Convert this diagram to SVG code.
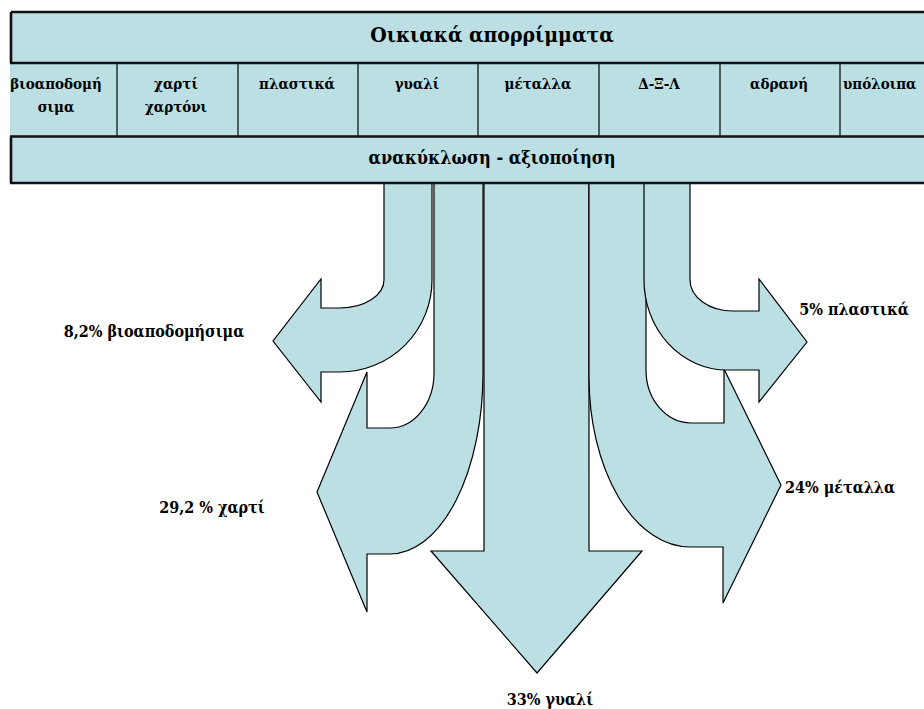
<svg xmlns="http://www.w3.org/2000/svg" width="924" height="709" viewBox="0 0 924 709">
<style>
.fl{fill:#BBDFE3}
.ar{fill:#BBDFE3;stroke:#000;stroke-width:1.2;stroke-linejoin:miter}
.bd{stroke:#111;stroke-width:2.6;fill:none}
.sep{stroke:#222;stroke-width:1.4}
text{font-family:"DejaVu Serif Condensed","DejaVu Serif",serif;font-stretch:condensed;font-weight:bold;fill:#000}
.t1{font-size:21px;text-anchor:middle}
.t2{font-size:15px;text-anchor:middle}
.t3{font-size:18px;text-anchor:middle}
.lb{font-size:16px;text-anchor:middle}
</style>
<rect width="924" height="709" fill="#fff"/>
<g id="connectors">
<path id="arrow-bio" class="ar" d="M384,183 L384,280 A44,28 0 0 1 340,308 L321,308 L321,279 L273,341 L321,402 L321,372 L340,372 A92,92 0 0 0 432,280 L432,183 Z"/>
<path id="arrow-paper" class="ar" d="M434,183 L434,373 A44,55 0 0 1 390,428 L367,428 L367,372 L317,492 L367,612 L367,554 L390,554 A93,181 0 0 0 483,373 L483,183 Z"/>
<path id="arrow-glass" class="ar" d="M484,183 L484,551 L431,551 L537,673 L642,551 L589,551 L589,183 Z"/>
<path id="arrow-metal" class="ar" d="M646,183 L646,370 A45,53 0 0 0 691,423 L724,423 L724,369 L781,485 L723,603 L723,547 L690,547 A101,170 0 0 1 589,377 L589,183 Z"/>
<path id="arrow-plastic" class="ar" d="M690,183 L690,280 A43,31 0 0 0 733,311 L759,311 L759,279 L807,342 L759,402 L759,370 L727,370 A83,90 0 0 1 644,280 L644,183 Z"/>
</g>
<g id="header">
<rect class="fl" x="10" y="12" width="930" height="172"/>
<path class="bd" d="M11,12 H930 M11,12 V63 M10,63 H930 M10,136.5 H930 M11,136.5 V183 M10,183 H930"/>
<path class="sep" d="M117,63 V136 M238,63 V136 M358,63 V136 M478,63 V136 M599,63 V136 M720,63 V136 M840,63 V136"/>
</g>
<g id="title"><text class="t1" x="492" y="42">Οικιακά απορρίμματα</text></g>
<g id="recycling"><text class="t3" x="492" y="164">ανακύκλωση - αξιοποίηση</text></g>
<g id="cat-bio"><text class="t2" x="56" y="89">βιοαποδομή</text><text class="t2" x="56" y="112">σιμα</text></g>
<g id="cat-paper"><text class="t2" x="176" y="89">χαρτί</text><text class="t2" x="176" y="112">χαρτόνι</text></g>
<g id="cat-plastic"><text class="t2" x="297" y="89">πλαστικά</text></g>
<g id="cat-glass"><text class="t2" x="417" y="89">γυαλί</text></g>
<g id="cat-metal"><text class="t2" x="538" y="89">μέταλλα</text></g>
<g id="cat-dxl"><text class="t2" x="659" y="89">Δ-Ξ-Λ</text></g>
<g id="cat-inert"><text class="t2" x="779" y="89">αδρανή</text></g>
<g id="cat-rest"><text x="843" y="89" style="font-size:15px">υπόλοιπα</text></g>
<g id="label-bio"><text class="lb" x="154" y="337">8,2% βιοαποδομήσιμα</text></g>
<g id="label-paper"><text class="lb" x="212" y="513">29,2 % χαρτί</text></g>
<g id="label-plastic"><text class="lb" x="854" y="315">5% πλαστικά</text></g>
<g id="label-metal"><text class="lb" x="840" y="493">24% μέταλλα</text></g>
<g id="label-glass"><text class="lb" x="550" y="705">33% γυαλί</text></g>
</svg>
